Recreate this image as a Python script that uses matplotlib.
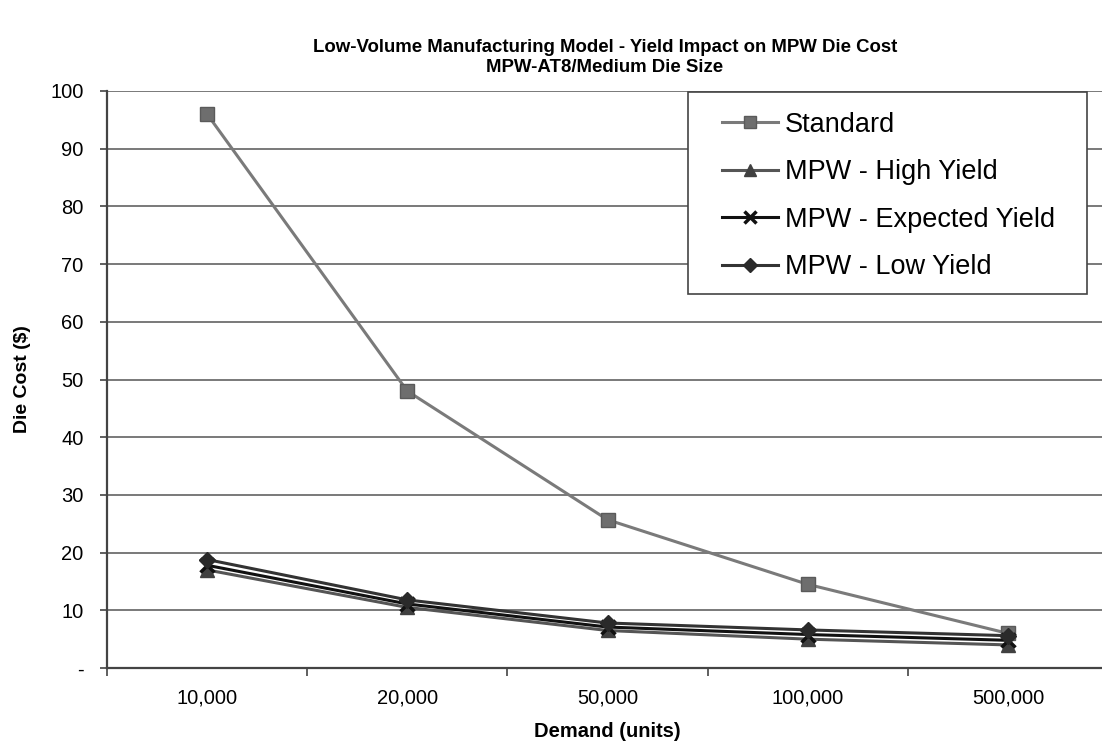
import matplotlib.pyplot as plt
from matplotlib.patches import Rectangle
import numpy as np

# demand levels (categories) and die cost per series
demand = ["10,000", "20,000", "50,000", "100,000", "500,000"]
standard = [96.0, 48.0, 25.7, 14.5, 6.0]
high_yield = [17.0, 10.5, 6.5, 5.0, 4.0]
expected_yield = [17.8, 11.1, 7.1, 5.8, 4.8]
low_yield = [18.8, 11.8, 7.8, 6.6, 5.6]

y_ticks = [0, 10, 20, 30, 40, 50, 60, 70, 80, 90, 100]
y_labels = ["-"] + [str(v) for v in y_ticks[1:]]

plt.rcParams['font.family'] = ['Liberation Sans', 'DejaVu Sans']

fig = plt.figure(figsize=(11.02, 7.49), dpi=100)
W, H = 1102, 749
# axes frame runs slightly off the right edge like the original
ax = fig.add_axes([107 / W, 1 - 668 / H, (1108 - 107) / W, (668 - 91) / H])

x = np.arange(len(demand))

ax.plot(x, standard, color="#7a7a7a", lw=2.2, marker="s", ms=10,
        mfc="#6e6e6e", mec="#5a5a5a", label="Standard", zorder=3)
ax.plot(x, high_yield, color="#555555", lw=2.2, marker="^", ms=10,
        mfc="#404040", mec="#404040", label="MPW - High Yield", zorder=4)
ax.plot(x, expected_yield, color="#111111", lw=2.2, marker="x", ms=10,
        mew=2.5, mec="#111111", label="MPW - Expected Yield", zorder=5)
ax.plot(x, low_yield, color="#333333", lw=2.2, marker="D", ms=8,
        mfc="#2a2a2a", mec="#2a2a2a", label="MPW - Low Yield", zorder=6)

ax.set_xlim(-0.5, len(demand) - 0.5)
ax.set_ylim(0, 100)
ax.set_yticks(y_ticks)
ax.set_yticklabels(y_labels, fontsize=14.5)
ax.set_xticks(x)
ax.set_xticklabels(demand, fontsize=14.5)
ax.set_xticks(np.arange(len(demand) + 1) - 0.5, minor=True)
ax.tick_params(axis="x", which="major", length=0, pad=15)
ax.tick_params(axis="x", which="minor", length=6, width=1.2, color="#444444")
ax.tick_params(axis="y", length=5, width=1.2, color="#444444", pad=12)

ax.grid(axis="y", color="#555555", lw=1.1)
ax.set_axisbelow(True)
for s in ["top", "right"]:
    ax.spines[s].set_visible(False)
for s in ["left", "bottom"]:
    ax.spines[s].set_color("#444444")
    ax.spines[s].set_linewidth(1.6)

ax.set_xlabel("Demand (units)", fontsize=14.5, fontweight="bold", labelpad=10)
ax.set_ylabel("Die Cost ($)", fontsize=14, fontweight="bold", labelpad=14)

fig.text(605 / W, 1 - 48 / H, "Low-Volume Manufacturing Model - Yield Impact on MPW Die Cost",
         ha="center", va="center", fontsize=13.4, fontweight="bold")
fig.text(605 / W, 1 - 67 / H, "MPW-AT8/Medium Die Size",
         ha="center", va="center", fontsize=13.4, fontweight="bold")

# legend frame drawn separately so the side padding can be wider than top/bottom
frame = Rectangle((688 / W, 1 - 294 / H), (1087 - 688) / W, (294 - 92) / H,
                  transform=fig.transFigure, facecolor="white", edgecolor="#444444",
                  lw=1.2, zorder=10, clip_on=False)
ax.add_patch(frame)

leg = ax.legend(loc="center left", bbox_to_anchor=(722 / W, 1 - 196 / H),
                bbox_transform=fig.transFigure, fontsize=19.5, frameon=False,
                handlelength=2.07, handletextpad=0.26, labelspacing=0.8,
                borderpad=0, borderaxespad=0, markerscale=0.85)
leg.set_zorder(11)

fig.savefig("out.png", dpi=100)
